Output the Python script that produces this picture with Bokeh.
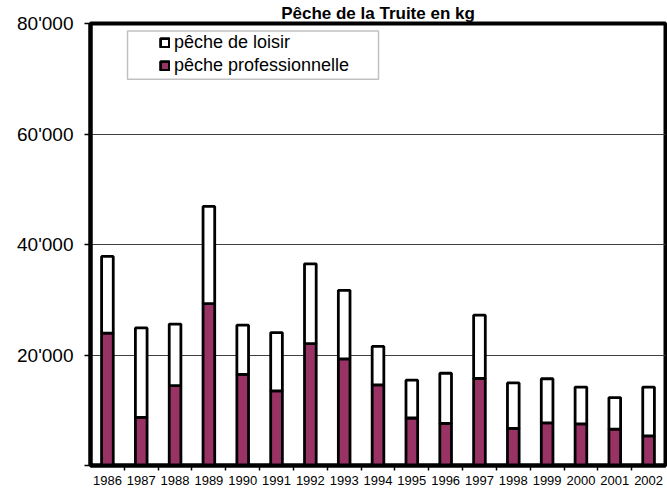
from bokeh.plotting import figure
from bokeh.models import (ColumnDataSource, FixedTicker, Legend, LegendItem,
                          BoxAnnotation)
from bokeh.embed import file_html
from bokeh.resources import INLINE

# ---- data ----
years = [1986, 1987, 1988, 1989, 1990, 1991, 1992, 1993, 1994,
         1995, 1996, 1997, 1998, 1999, 2000, 2001, 2002]
total_kg = [37850, 24900, 25600, 46900, 25400, 24050, 36500, 31700, 21550,
            15450, 16700, 27200, 14950, 15700, 14200, 12300, 14200]
pro_kg = [23950, 8700, 14450, 29300, 16500, 13500, 22050, 19300, 14600,
          8600, 7600, 15750, 6700, 7700, 7550, 6600, 5350]
loisir_kg = [t - p for t, p in zip(total_kg, pro_kg)]

series_names = ["pêche professionnelle", "pêche de loisir"]
series_colors = ["#993366", "#ffffff"]
y_ticks = [0, 20000, 40000, 60000, 80000]
y_tick_labels = ["", "20'000", "40'000", "60'000", "80'000"]
title_text = "Pêche de la Truite en kg"

FONT = "Liberation Sans"

source = ColumnDataSource(dict(year=years, pro=pro_kg, loisir=loisir_kg))

p = figure(width=667, height=488, output_backend="svg", toolbar_location=None,
           x_range=(years[0] - 0.5, years[-1] + 0.5), y_range=(0, 80000),
           min_border_left=90, min_border_right=2, min_border_top=22,
           min_border_bottom=23)

p.background_fill_color = "white"
p.border_fill_color = "white"
p.outline_line_color = "black"
p.outline_line_width = 4

# title
p.title.text = title_text
p.title.align = "center"
p.title.text_font = FONT
p.title.text_font_size = "17px"
p.title.text_font_style = "bold"
p.title.text_color = "black"
p.title.standoff = 2

renderers = p.vbar_stack(["pro", "loisir"], x="year", width=0.345,
                         color=series_colors, line_color="black",
                         line_width=2.8, source=source)

# grid
p.xgrid.visible = False
p.ygrid.ticker = FixedTicker(ticks=y_ticks[1:-1])
p.ygrid.grid_line_color = "#404040"
p.ygrid.grid_line_width = 1.2

# y axis
ya = p.yaxis[0]
ya.ticker = FixedTicker(ticks=y_ticks)
ya.major_label_overrides = {t: l for t, l in zip(y_ticks, y_tick_labels)}
ya.axis_line_width = 4
ya.axis_line_color = "black"
ya.major_tick_out = 6
ya.major_tick_in = 0
ya.major_tick_line_width = 1.5
ya.minor_tick_line_color = None
ya.major_label_text_font = FONT
ya.major_label_text_font_size = "19px"
ya.major_label_text_color = "black"
ya.major_label_standoff = 11

# x axis
xa = p.xaxis[0]
xa.ticker = FixedTicker(ticks=years, minor_ticks=[y + 0.5 for y in years[:-1]])
xa.major_label_overrides = {y: str(y) for y in years}
xa.axis_line_width = 4
xa.axis_line_color = "black"
xa.major_tick_out = 0
xa.major_tick_in = 0
xa.minor_tick_out = 5
xa.minor_tick_in = 0
xa.minor_tick_line_width = 1.5
xa.minor_tick_line_color = "black"
xa.major_label_text_font = FONT
xa.major_label_text_font_size = "13px"
xa.major_label_text_color = "black"
xa.major_label_standoff = 5

# legend box
box = BoxAnnotation(left=1986.594, right=1994.015, top=78646, bottom=69887,
                    fill_color="white", fill_alpha=1.0, line_color="#333333",
                    line_width=1.5)
p.add_layout(box)

legend = Legend(items=[LegendItem(label=series_names[1], renderers=[renderers[1]]),
                       LegendItem(label=series_names[0], renderers=[renderers[0]])],
                location=(69, 389), padding=0, margin=0, spacing=2,
                glyph_width=11, glyph_height=11, label_standoff=4,
                label_height=21, label_text_font=FONT,
                label_text_font_size="18px", label_text_color="black",
                border_line_alpha=0, background_fill_alpha=0)
p.add_layout(legend)

open("out.html", "w").write(file_html(p, INLINE))
